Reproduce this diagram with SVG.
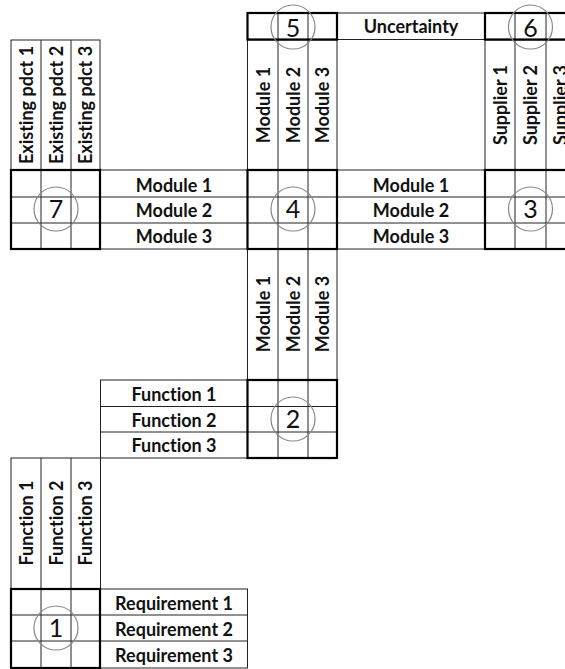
<svg xmlns="http://www.w3.org/2000/svg" width="565" height="669" viewBox="0 0 565 669">
<style>
.bg{fill:#ffffff}
.thin{fill:none;stroke:#222;stroke-width:1}
.thick{fill:none;stroke:#000;stroke-width:2.2}
.circ{fill:none;stroke:#888;stroke-width:1.2}
.lbl{font-family:Lato,"Liberation Sans",sans-serif;font-weight:bold;font-size:18px;text-anchor:middle;fill:#111;font-variant-ligatures:none}
.num{font-family:Lato,"Liberation Sans",sans-serif;font-weight:normal;font-size:25px;text-anchor:middle;fill:#111}
</style>
<rect class="bg" x="0" y="0" width="565" height="669"/>

<!-- Existing products columns -->
<g id="existing-products">
<rect class="thin" x="11" y="40" width="89" height="130"/>
<line class="thin" x1="41" y1="40" x2="41" y2="170"/>
<line class="thin" x1="71" y1="40" x2="71" y2="170"/>
<text class="lbl" transform="translate(32.5,105) rotate(-90)">Existing pdct 1</text>
<text class="lbl" transform="translate(62.5,105) rotate(-90)">Existing pdct 2</text>
<text class="lbl" transform="translate(92,105) rotate(-90)">Existing pdct 3</text>
</g>

<!-- Module rows left -->
<g id="modules-row-left">
<rect class="thin" x="100" y="170" width="147.5" height="79"/>
<line class="thin" x1="100" y1="197" x2="247.5" y2="197"/>
<line class="thin" x1="100" y1="223" x2="247.5" y2="223"/>
<text class="lbl" x="174" y="191.5">Module 1</text>
<text class="lbl" x="174" y="217">Module 2</text>
<text class="lbl" x="174" y="243">Module 3</text>
</g>

<!-- Module columns top -->
<g id="modules-col-top">
<rect class="thin" x="247.5" y="40" width="89.5" height="130"/>
<line class="thin" x1="278" y1="40" x2="278" y2="170"/>
<line class="thin" x1="308" y1="40" x2="308" y2="170"/>
<text class="lbl" transform="translate(269.5,105) rotate(-90)">Module 1</text>
<text class="lbl" transform="translate(299.5,105) rotate(-90)">Module 2</text>
<text class="lbl" transform="translate(329,105) rotate(-90)">Module 3</text>
</g>

<!-- Uncertainty -->
<g id="uncertainty">
<rect class="thin" x="337" y="13" width="148" height="26.5"/>
<text class="lbl" x="411" y="33">Uncertainty</text>
</g>

<!-- Suppliers -->
<g id="suppliers">
<rect class="thin" x="485" y="40" width="91" height="130"/>
<line class="thin" x1="515" y1="40" x2="515" y2="170"/>
<line class="thin" x1="546" y1="40" x2="546" y2="170"/>
<text class="lbl" transform="translate(506.5,105) rotate(-90)">Supplier 1</text>
<text class="lbl" transform="translate(537,105) rotate(-90)">Supplier 2</text>
<text class="lbl" transform="translate(567,105) rotate(-90)">Supplier 3</text>
</g>

<!-- Module rows right -->
<g id="modules-row-right">
<rect class="thin" x="337" y="170" width="148" height="79"/>
<line class="thin" x1="337" y1="197" x2="485" y2="197"/>
<line class="thin" x1="337" y1="223" x2="485" y2="223"/>
<text class="lbl" x="411" y="191.5">Module 1</text>
<text class="lbl" x="411" y="217">Module 2</text>
<text class="lbl" x="411" y="243">Module 3</text>
</g>

<!-- Module columns middle -->
<g id="modules-col-mid">
<rect class="thin" x="247.5" y="249" width="89.5" height="131"/>
<line class="thin" x1="278" y1="249" x2="278" y2="380"/>
<line class="thin" x1="308" y1="249" x2="308" y2="380"/>
<text class="lbl" transform="translate(269.5,314) rotate(-90)">Module 1</text>
<text class="lbl" transform="translate(299.5,314) rotate(-90)">Module 2</text>
<text class="lbl" transform="translate(329,314) rotate(-90)">Module 3</text>
</g>

<!-- Function rows -->
<g id="functions-row">
<rect class="thin" x="100.5" y="380" width="147" height="78"/>
<line class="thin" x1="100.5" y1="406.5" x2="247.5" y2="406.5"/>
<line class="thin" x1="100.5" y1="432" x2="247.5" y2="432"/>
<text class="lbl" x="174" y="401">Function 1</text>
<text class="lbl" x="174" y="426.5">Function 2</text>
<text class="lbl" x="174" y="452">Function 3</text>
</g>

<!-- Function columns -->
<g id="functions-col">
<rect class="thin" x="11" y="458" width="89.5" height="131"/>
<line class="thin" x1="41" y1="458" x2="41" y2="589"/>
<line class="thin" x1="71" y1="458" x2="71" y2="589"/>
<text class="lbl" transform="translate(32.5,523) rotate(-90)">Function 1</text>
<text class="lbl" transform="translate(62.5,523) rotate(-90)">Function 2</text>
<text class="lbl" transform="translate(92,523) rotate(-90)">Function 3</text>
</g>

<!-- Requirement rows -->
<g id="requirements">
<rect class="thin" x="100" y="589" width="147.5" height="79"/>
<line class="thin" x1="100" y1="615" x2="247.5" y2="615"/>
<line class="thin" x1="100" y1="641" x2="247.5" y2="641"/>
<text class="lbl" x="174" y="610">Requirement 1</text>
<text class="lbl" x="174" y="636">Requirement 2</text>
<text class="lbl" x="174" y="662">Requirement 3</text>
</g>

<!-- Matrix 7 -->
<g id="matrix-7">
<line class="thin" x1="41" y1="170" x2="41" y2="249"/>
<line class="thin" x1="71" y1="170" x2="71" y2="249"/>
<line class="thin" x1="11" y1="197" x2="100" y2="197"/>
<line class="thin" x1="11" y1="223" x2="100" y2="223"/>
<rect class="thick" x="11" y="170" width="89" height="79"/>
<circle class="circ" cx="56" cy="209" r="22"/>
<text class="num" x="56" y="218">7</text>
</g>

<!-- Matrix 4 -->
<g id="matrix-4">
<line class="thin" x1="278" y1="170" x2="278" y2="249"/>
<line class="thin" x1="308" y1="170" x2="308" y2="249"/>
<line class="thin" x1="247.5" y1="197" x2="337" y2="197"/>
<line class="thin" x1="247.5" y1="223" x2="337" y2="223"/>
<rect class="thick" x="247.5" y="170" width="89.5" height="79"/>
<circle class="circ" cx="293" cy="209" r="22"/>
<text class="num" x="293" y="218">4</text>
</g>

<!-- Matrix 3 -->
<g id="matrix-3">
<line class="thin" x1="515" y1="170" x2="515" y2="249"/>
<line class="thin" x1="546" y1="170" x2="546" y2="249"/>
<line class="thin" x1="485" y1="197" x2="576" y2="197"/>
<line class="thin" x1="485" y1="223" x2="576" y2="223"/>
<rect class="thick" x="485" y="170" width="91" height="79"/>
<circle class="circ" cx="530.5" cy="209" r="22"/>
<text class="num" x="530.5" y="218">3</text>
</g>

<!-- Matrix 5 -->
<g id="matrix-5">
<line class="thin" x1="278" y1="13" x2="278" y2="39.5"/>
<line class="thin" x1="308" y1="13" x2="308" y2="39.5"/>
<rect class="thick" x="247.5" y="13" width="89.5" height="26.5"/>
<circle class="circ" cx="293" cy="27" r="22"/>
<text class="num" x="293" y="36.5">5</text>
</g>

<!-- Matrix 6 -->
<g id="matrix-6">
<line class="thin" x1="515" y1="13" x2="515" y2="39.5"/>
<line class="thin" x1="546" y1="13" x2="546" y2="39.5"/>
<rect class="thick" x="485" y="13" width="91" height="26.5"/>
<circle class="circ" cx="530.5" cy="27" r="22"/>
<text class="num" x="530.5" y="36.5">6</text>
</g>

<!-- Matrix 2 -->
<g id="matrix-2">
<line class="thin" x1="278" y1="380" x2="278" y2="458"/>
<line class="thin" x1="308" y1="380" x2="308" y2="458"/>
<line class="thin" x1="247.5" y1="406.5" x2="337" y2="406.5"/>
<line class="thin" x1="247.5" y1="432" x2="337" y2="432"/>
<rect class="thick" x="247.5" y="380" width="89.5" height="78"/>
<circle class="circ" cx="293" cy="419" r="22"/>
<text class="num" x="293" y="428">2</text>
</g>

<!-- Matrix 1 -->
<g id="matrix-1">
<line class="thin" x1="41" y1="589" x2="41" y2="668"/>
<line class="thin" x1="71" y1="589" x2="71" y2="668"/>
<line class="thin" x1="11" y1="615" x2="100" y2="615"/>
<line class="thin" x1="11" y1="641" x2="100" y2="641"/>
<rect class="thick" x="11" y="589" width="89" height="79"/>
<circle class="circ" cx="56" cy="628" r="22"/>
<text class="num" x="56" y="637">1</text>
</g>

<g id="connectors"></g>
</svg>
